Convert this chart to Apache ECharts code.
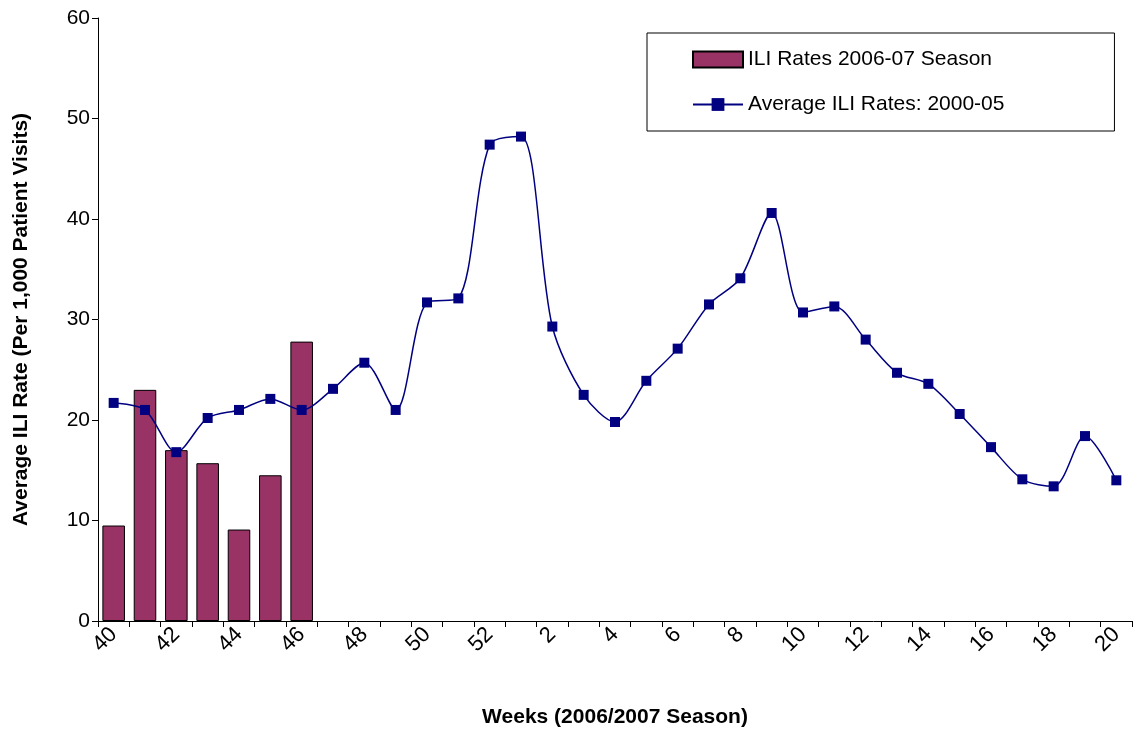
<!DOCTYPE html>
<html>
<head>
<meta charset="utf-8"/>
<script src="https://cdn.jsdelivr.net/npm/echarts@6/dist/echarts.min.js"></script>
</head>
<body style="margin:0">
<div id="chart" style="width:1141px;height:733px;"></div>
<script>
var weeks = ['40','41','42','43','44','45','46','47','48','49','50','51','52','1','2','3','4','5','6','7','8','9','10','11','12','13','14','15','16','17','18','19','20'];
var season0607 = [9.5,23.0,17.0,15.7,9.1,14.5,27.8];
var avg0005 = [21.7,21.0,16.8,20.2,21.0,22.1,21.0,23.1,25.7,21.0,31.7,32.1,47.4,48.2,29.3,22.5,19.8,23.9,27.1,31.5,34.1,40.6,30.7,31.3,28.0,24.7,23.6,20.6,17.3,14.1,13.4,18.4,14.0];

var chart = echarts.init(document.getElementById('chart'));
chart.setOption({
    textStyle: {fontFamily: 'Liberation Sans, Arial'},
    grid: {left: 98, right: 9, top: 18, bottom: 110},
    legend: {
        orient: 'vertical', left: 647, top: 33,
        padding: [16, 110, 16, 45], itemGap: 24,
        borderColor: '#000', borderWidth: 1,
        textStyle: {fontSize: 21, color: '#000'},
        itemWidth: 50, itemHeight: 16,
        data: [{name: 'ILI Rates 2006-07 Season', icon: 'rect'}, 'Average ILI Rates: 2000-05']
    },
    xAxis: {
        type: 'category', data: weeks,
        name: 'Weeks (2006/2007 Season)', nameLocation: 'middle', nameGap: 86,
        nameTextStyle: {fontSize: 21, fontWeight: 'bold', color: '#000'},
        axisLine: {lineStyle: {color: '#000'}},
        axisTick: {show: true, interval: 0, length: 6, lineStyle: {color: '#000'}},
        axisLabel: {interval: 1, rotate: 45, fontSize: 22, color: '#000', margin: 10}
    },
    yAxis: {
        type: 'value', min: 0, max: 60, interval: 10,
        name: 'Average ILI Rate (Per 1,000 Patient Visits)', nameLocation: 'middle', nameGap: 66,
        nameTextStyle: {fontSize: 21, fontWeight: 'bold', color: '#000'},
        axisLine: {show: true, lineStyle: {color: '#000'}},
        axisTick: {show: true, length: 6, lineStyle: {color: '#000'}},
        axisLabel: {fontSize: 21, color: '#000'},
        splitLine: {show: false}
    },
    series: [{
        name: 'ILI Rates 2006-07 Season', type: 'bar', data: season0607,
        barWidth: '72%',
        itemStyle: {color: '#993366', borderColor: '#000', borderWidth: 1}
    }, {
        name: 'Average ILI Rates: 2000-05', type: 'line', data: avg0005,
        smooth: 0.3, symbol: 'rect', symbolSize: 10,
        lineStyle: {color: '#000080', width: 1.5},
        itemStyle: {color: '#000080'}
    }]
});
</script>
</body>
</html>
